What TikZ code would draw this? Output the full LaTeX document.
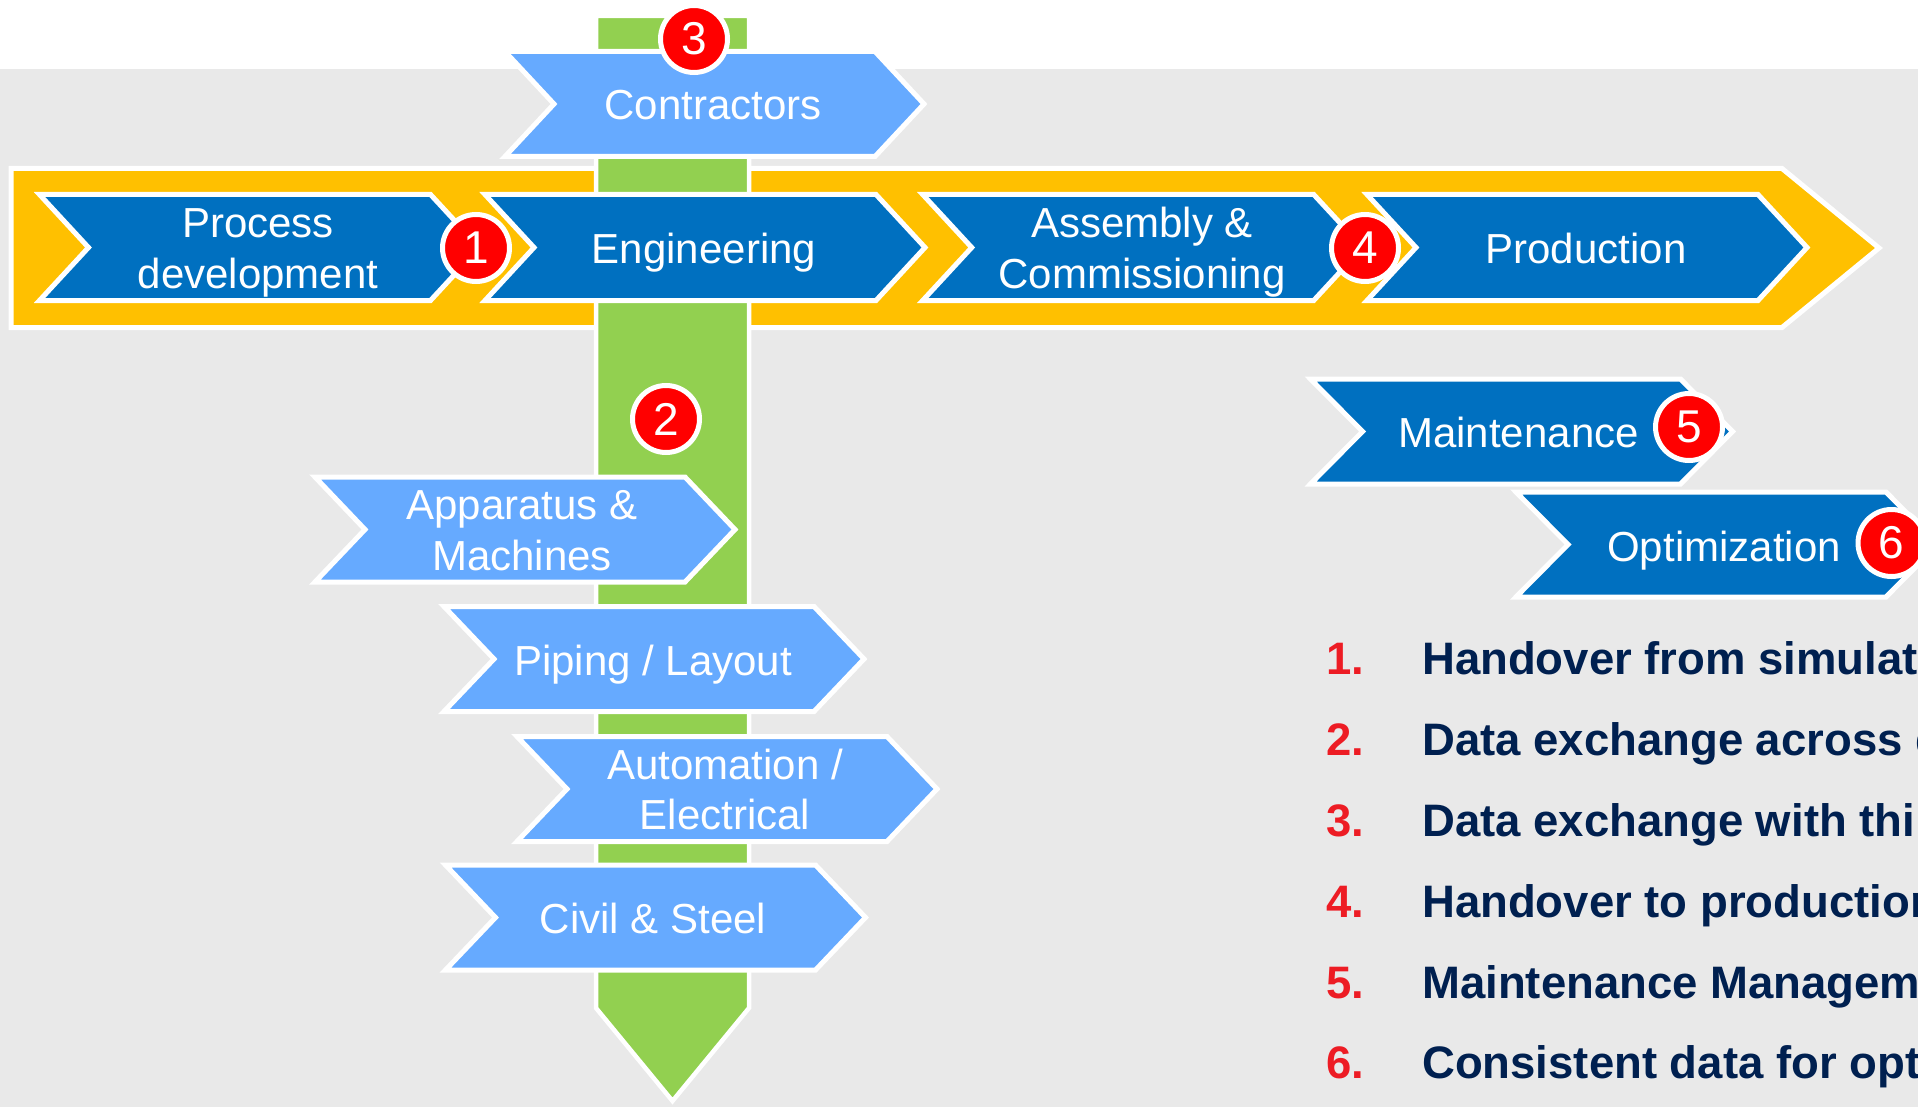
\documentclass[tikz,border=0pt]{standalone}
\usepackage{fontspec}
\setmainfont{Liberation Sans}
\definecolor{bggray}{HTML}{E9E9E9}
\definecolor{bandyellow}{HTML}{FFC000}
\definecolor{bargreen}{HTML}{92D050}
\definecolor{darkblue}{HTML}{0070C0}
\definecolor{lightblue}{HTML}{66AAFF}
\definecolor{badgered}{HTML}{FF0000}
\definecolor{numred}{HTML}{ED1C24}
\definecolor{navytext}{HTML}{002050}
% #1 fill, #2 left x, #3 top y, #4 base width, #5 height, #6 point depth
\newcommand{\chevshape}[6]{\filldraw[chev, fill=#1] (#2,#3) -- ++(#4,0) -- ++(#6,#5/2) -- ++(-#6,#5/2) -- ++(-#4,0) -- ++(#6,-#5/2) -- cycle;}
\begin{document}
\begin{tikzpicture}[x=1pt,y=-1pt,
  lbl/.style={font=\fontsize{42}{50}\selectfont, text=white, inner sep=0pt, anchor=base},
  badge/.style={circle, fill=badgered, draw=white, line width=5pt, minimum size=67pt, inner sep=0pt, font=\fontsize{46}{46}\selectfont, text=white},
  num/.style={font=\bfseries\fontsize{45.5}{50}\selectfont, text=numred, inner sep=0pt, anchor=base west},
  item/.style={font=\bfseries\fontsize{45.5}{50}\selectfont, text=navytext, inner sep=0pt, anchor=base west},
  chev/.style={draw=white, line width=5pt, line join=miter}]
\useasboundingbox (0,0) rectangle (1918,1107);
\clip (0,0) rectangle (1918,1107);
% background
\fill[white] (0,0) rectangle (1918,69);
\fill[bggray] (0,69) rectangle (1918,1107);
% yellow band
\filldraw[chev, fill=bandyellow] (11,168.5) -- (1782,168.5) -- (1879,248) -- (1782,327.5) -- (11,327.5) -- cycle;
% green bar
\filldraw[fill=bargreen, draw=white, line width=4.5pt, line join=miter] (596,16) -- (749,16) -- (749,1008) -- (672.5,1101) -- (596,1008) -- cycle;
% contractors
\chevshape{lightblue}{505}{51.5}{370}{105}{49}
% main chevrons
\chevshape{darkblue}{39.5}{194.5}{391}{106}{49}
\chevshape{darkblue}{485}{194.5}{391}{106}{49}
\chevshape{darkblue}{922.7}{194.5}{391}{106}{49}
\chevshape{darkblue}{1367}{194.5}{391}{106}{49}
% sub chevrons
\chevshape{lightblue}{315}{477}{370}{105}{50}
\chevshape{lightblue}{444}{606.5}{370}{105}{50}
\chevshape{lightblue}{517}{736.5}{370}{105}{50}
\chevshape{lightblue}{445.5}{865}{370}{105}{50}
% maintenance / optimization
\chevshape{darkblue}{1310.5}{379}{370}{105}{52}
\chevshape{darkblue}{1516}{492}{370}{105}{52}
% labels
\node[lbl] (proc1) at (258,238) {Process};
\node[lbl] (proc2) at (258,288) {development};
\node[lbl] (eng) at (704,263) {Engineering};
\node[lbl] (asm1) at (1142,238) {Assembly \&};
\node[lbl] (asm2) at (1142,288) {Commissioning};
\node[lbl] (prod) at (1586,263) {Production};
\node[lbl] (contr) at (713,120) {Contractors};
\node[lbl] (app1) at (522,519) {Apparatus \&};
\node[lbl] (app2) at (522,570) {Machines};
\node[lbl] (pip) at (653,675) {Piping / Layout};
\node[lbl] (aut1) at (725,779) {Automation /};
\node[lbl] (aut2) at (725,829) {Electrical};
\node[lbl] (civ) at (653,933) {Civil \& Steel};
\node[lbl] (maint) at (1518.5,447) {Maintenance};
\node[lbl] (opt) at (1724,561) {Optimization};
% badges
\node[badge] (b1) at (476,248) {1};
\node[badge] (b2) at (666,419) {2};
\node[badge] (b3) at (694,39) {3};
\node[badge] (b4) at (1365,248) {4};
\node[badge] (b5) at (1689,427) {5};
\node[badge] (b6) at (1891.5,543) {6};
% list (cut off at the right edge, as in the reference)
\node[num] (n1) at (1326,674) {1.};
\node[item] (t1) at (1422,674) {Handover from simulat};
\node[num] (n2) at (1326,755) {2.};
\node[item] (t2) at (1422,755) {Data exchange across d};
\node[num] (n3) at (1326,836) {3.};
\node[item] (t3) at (1422,836) {Data exchange with thir};
\node[num] (n4) at (1326,917) {4.};
\node[item] (t4) at (1422,917) {Handover to production};
\node[num] (n5) at (1326,998) {5.};
\node[item] (t5) at (1422,998) {Maintenance Manageme};
\node[num] (n6) at (1326,1078) {6.};
\node[item] (t6) at (1422,1078) {Consistent data for opti};
\end{tikzpicture}
\end{document}
